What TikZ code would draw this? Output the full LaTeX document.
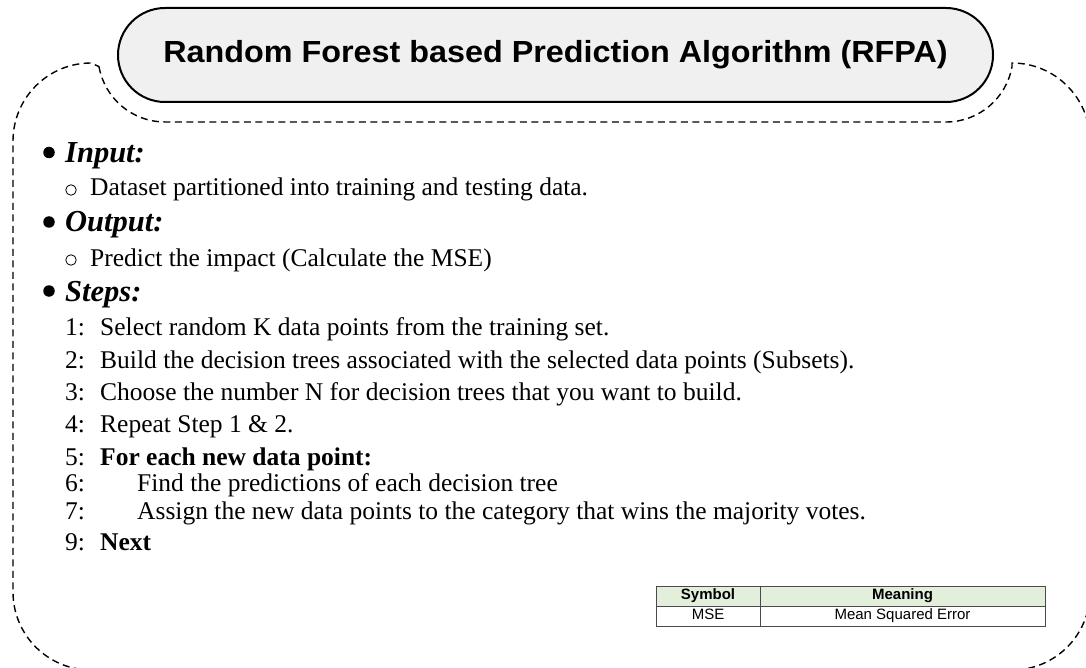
\documentclass[tikz,border=0pt]{standalone}
\usepackage{fontspec}
\setmainfont{Liberation Serif}
\setsansfont{Liberation Sans}
\definecolor{titlefill}{HTML}{F0F0F0}
\definecolor{headfill}{HTML}{E2EFDA}
\definecolor{gridline}{HTML}{4A4A4A}
\begin{document}
\begin{tikzpicture}[x=1pt,y=-1pt,
  body/.style={anchor=base west,inner sep=0pt,font=\fontsize{25.5}{30}\selectfont},
  head/.style={anchor=base west,inner sep=0pt,font=\fontsize{30.5}{34}\selectfont\bfseries\itshape},
  dot/.style={fill=black,circle,inner sep=0pt,minimum size=11.5pt},
  ring/.style={draw=black,line width=0.8pt,circle,inner sep=0pt,minimum size=10.5pt},
  frame/.style={draw=black,line width=1.4pt,dash pattern=on 7pt off 4.5pt},
  titlebox/.style={draw=black,line width=2pt,fill=titlefill,rounded corners=47pt,
    minimum width=875pt,minimum height=94pt,inner sep=0pt,
    font=\sffamily\bfseries\fontsize{30.5}{34}\selectfont},
  cell/.style={draw=gridline,line width=1pt,inner sep=0pt,minimum height=20pt,
    text height=10.8pt,text depth=3.2pt,font=\sffamily\fontsize{15}{17}\selectfont},
  headcell/.style={cell,fill=headfill,font=\sffamily\bfseries\fontsize{15}{17}\selectfont},
]
\useasboundingbox (0,0) rectangle (1086,668);

% dashed outline that dips under the title
\begin{scope}
\clip (0,0) rectangle (1086,668);
\draw[frame] (99,66.6) arc[start angle=170,end angle=90,radius=67]
  -- (946,122) arc[start angle=90,end angle=10,radius=67]
  -- (1012,63) arc[start angle=270,end angle=360,radius=78]
  -- (1090,592) arc[start angle=0,end angle=90,radius=78]
  -- (91,670) arc[start angle=90,end angle=180,radius=78]
  -- (13,141) arc[start angle=180,end angle=270,radius=78]
  -- cycle;
\end{scope}

% title
\node[titlebox] (title) at (555.5,55)
  {\scalebox{1.06}[1]{Random Forest based Prediction Algorithm (RFPA)}};

% input / output
\node[dot] (b1) at (49,152.5) {};
\node[head] (input) at (65,163) {Input:};
\node[ring] (r1) at (71,190) {};
\node[body] (in1) at (90,196) {Dataset partitioned into training and testing data.};
\node[dot] (b2) at (49,222) {};
\node[head] (output) at (65,232) {Output:};
\node[ring] (r2) at (71,260) {};
\node[body] (out1) at (90,266) {Predict the impact (Calculate the MSE)};

% steps
\node[dot] (b3) at (49,291) {};
\node[head] (steps) at (65,301) {Steps:};
\node[body] (n1) at (65,335) {1:};
\node[body] (s1) at (100,335) {Select random K data points from the training set.};
\node[body] (n2) at (65,368) {2:};
\node[body] (s2) at (100,368) {Build the decision trees associated with the selected data points (Subsets).};
\node[body] (n3) at (65,400) {3:};
\node[body] (s3) at (100,400) {Choose the number N for decision trees that you want to build.};
\node[body] (n4) at (65,432) {4:};
\node[body] (s4) at (100,432) {Repeat Step 1 \& 2.};
\node[body] (n5) at (65,465) {5:};
\node[body] (s5) at (100,465) {\bfseries For each new data point:};
\node[body] (n6) at (65,491) {6:};
\node[body] (s6) at (137,491) {Find the predictions of each decision tree};
\node[body] (n7) at (65,519) {7:};
\node[body] (s7) at (137,519) {Assign the new data points to the category that wins the majority votes.};
\node[body] (n9) at (65,550) {9:};
\node[body] (s9) at (100,550) {\bfseries Next};

% symbol table
\node[headcell,minimum width=104pt] (hsym) at (708,596) {Symbol};
\node[headcell,minimum width=285pt] (hmean) at (902.5,596) {Meaning};
\node[cell,minimum width=104pt] (csym) at (708,616) {MSE};
\node[cell,minimum width=285pt] (cmean) at (902.5,616) {Mean Squared Error};
\end{tikzpicture}
\end{document}
